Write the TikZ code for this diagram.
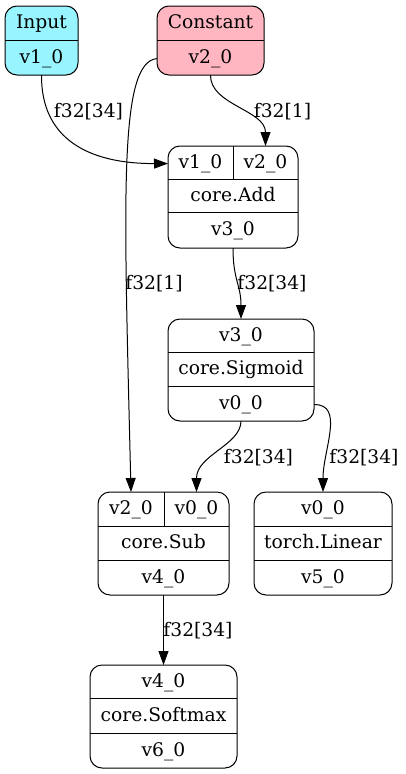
\documentclass[tikz,border=0pt]{standalone}
\usepackage{fontspec}
\setmainfont{DejaVu Serif}
\usetikzlibrary{arrows.meta}
\definecolor{incyan}{HTML}{98F5FF}
\definecolor{constpink}{HTML}{FFB6C1}
\newcommand{\gvfont}{\fontsize{18.7}{22}\selectfont}
\begin{document}
\begin{tikzpicture}[x=1pt,y=-1pt,
  rec/.style={draw, rounded corners=12pt, inner sep=0pt, outer sep=0pt, line width=1pt},
  txt/.style={inner sep=0pt, anchor=base, font=\gvfont},
  div/.style={line width=1pt},
  edge/.style={-{Triangle[length=14pt,width=10pt]}, line width=1pt},
  lbl/.style={inner sep=0pt, anchor=base, font=\gvfont}]
\useasboundingbox (0,0) rectangle (405,774);

% Input
\node[rec, fill=incyan, minimum width=73pt, minimum height=69pt] (input) at (41.5,40.5) {};
\draw[div] (5,40) -- (78,40);
\node[txt] (inA) at (41.5,28.8) {Input};
\node[txt] (inB) at (41.5,63.3) {v1\_0};

% Constant
\node[rec, fill=constpink, minimum width=107pt, minimum height=69pt] (const) at (210.5,40.5) {};
\draw[div] (157,40) -- (264,40);
\node[txt] (cA) at (210.5,28.8) {Constant};
\node[txt] (cB) at (210.5,63.3) {v2\_0};

% core.Add
\node[rec, minimum width=130pt, minimum height=102pt] (add) at (233,197) {};
\draw[div] (168,179) -- (298,179);
\draw[div] (168,212) -- (298,212);
\draw[div] (233,146) -- (233,179);
\node[txt] (addA) at (200.5,168.3) {v1\_0};
\node[txt] (addB) at (265.5,168.3) {v2\_0};
\node[txt] (addC) at (233,201.3) {core.Add};
\node[txt] (addD) at (233,235.8) {v3\_0};

% core.Sigmoid
\node[rec, minimum width=146pt, minimum height=102pt] (sig) at (241,370) {};
\draw[div] (168,352) -- (314,352);
\draw[div] (168,386) -- (314,386);
\node[txt] (sigA) at (241,341.3) {v3\_0};
\node[txt] (sigB) at (241,374.8) {core.Sigmoid};
\node[txt] (sigC) at (241,409.3) {v0\_0};

% core.Sub
\node[rec, minimum width=131pt, minimum height=103pt] (sub) at (163.5,543.5) {};
\draw[div] (98,526) -- (229,526);
\draw[div] (98,560) -- (229,560);
\draw[div] (164,492) -- (164,526);
\node[txt] (subA) at (131,514.8) {v2\_0};
\node[txt] (subB) at (196.5,514.8) {v0\_0};
\node[txt] (subC) at (163.5,548.8) {core.Sub};
\node[txt] (subD) at (163.5,583.3) {v4\_0};

% torch.Linear
\node[rec, minimum width=138pt, minimum height=103pt] (lin) at (323,543.5) {};
\draw[div] (254,526) -- (392,526);
\draw[div] (254,560) -- (392,560);
\node[txt] (linA) at (323,514.8) {v0\_0};
\node[txt] (linB) at (323,548.8) {torch.Linear};
\node[txt] (linC) at (323,583.3) {v5\_0};

% core.Softmax
\node[rec, minimum width=147pt, minimum height=103pt] (soft) at (163.5,716.5) {};
\draw[div] (90,698) -- (237,698);
\draw[div] (90,733) -- (237,733);
\node[txt] (softA) at (163.5,687.3) {v4\_0};
\node[txt] (softB) at (163.5,721.3) {core.Softmax};
\node[txt] (softC) at (163.5,756.3) {v6\_0};

% edges
\draw[edge] (input.south) .. controls (41,140) and (90,163.7) .. (add.west |- addA.center);
\draw[edge] (const.south) .. controls (210,105) and (265.5,110) .. (addB.center |- add.north);
\draw[edge] (const.west |- cB.center) .. controls (118,62) and (124,200) .. (subA.center |- sub.north);
\draw[edge] (add.south) .. controls (233,280) and (241,285) .. (sig.north);
\draw[edge] (sig.south) .. controls (241,445) and (196.5,455) .. (subB.center |- sub.north);
\draw[edge] (sig.east |- sigC.center) .. controls (345,404) and (323,450) .. (lin.north);
\draw[edge] (sub.south) -- (soft.north);

% edge labels
\node[lbl] (l1) at (88.5,117.3) {f32[34]};
\node[lbl] (l2) at (282.5,117.3) {f32[1]};
\node[lbl] (l3) at (154,289) {f32[1]};
\node[lbl] (l4) at (272,289) {f32[34]};
\node[lbl] (l5) at (258.5,463.3) {f32[34]};
\node[lbl] (l6) at (364,463.3) {f32[34]};
\node[lbl] (l7) at (198,636.7) {f32[34]};
\end{tikzpicture}
\end{document}
